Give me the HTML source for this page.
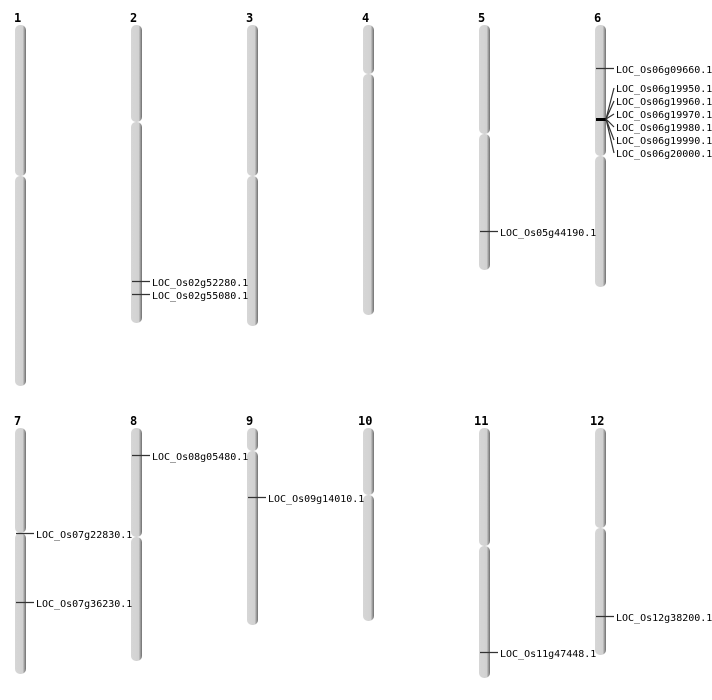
<!DOCTYPE html>
<html><head><meta charset="utf-8"><style>
html,body{margin:0;padding:0;background:#fff;}
svg{display:block;}
text.n{font-family:"DejaVu Sans Mono","Liberation Mono",monospace;font-weight:bold;font-size:12px;fill:#000;}
text.g{font-family:"DejaVu Sans Mono","Liberation Mono",monospace;font-size:10px;fill:#000;}
</style></head><body>
<svg width="712" height="700" viewBox="0 0 712 700" xmlns="http://www.w3.org/2000/svg">
<defs>
<linearGradient id="b" x1="0" x2="1" y1="0" y2="0">
<stop offset="0" stop-color="#d6d6d6"/><stop offset="0.7" stop-color="#d2d2d2"/><stop offset="0.82" stop-color="#a8a8a8"/><stop offset="1" stop-color="#6e6e6e"/>
</linearGradient>
</defs>
<g fill="url(#b)">
<rect x="15" y="25" width="11" height="151" rx="5"/><rect x="15" y="176" width="11" height="210" rx="5"/>
<rect x="131" y="25" width="11" height="97" rx="5"/><rect x="131" y="122" width="11" height="201" rx="5"/>
<rect x="247" y="25" width="11" height="151" rx="5"/><rect x="247" y="176" width="11" height="150" rx="5"/>
<rect x="363" y="25" width="11" height="49" rx="5"/><rect x="363" y="74" width="11" height="241" rx="5"/>
<rect x="479" y="25" width="11" height="109" rx="5"/><rect x="479" y="134" width="11" height="136" rx="5"/>
<rect x="595" y="25" width="11" height="131" rx="5"/><rect x="595" y="156" width="11" height="131" rx="5"/>
<rect x="15" y="428" width="11" height="105" rx="5"/><rect x="15" y="533" width="11" height="141" rx="5"/>
<rect x="131" y="428" width="11" height="109" rx="5"/><rect x="131" y="537" width="11" height="124" rx="5"/>
<rect x="247" y="428" width="11" height="23" rx="5"/><rect x="247" y="451" width="11" height="174" rx="5"/>
<rect x="363" y="428" width="11" height="67" rx="5"/><rect x="363" y="495" width="11" height="126" rx="5"/>
<rect x="479" y="428" width="11" height="118" rx="5"/><rect x="479" y="546" width="11" height="132" rx="5"/>
<rect x="595" y="428" width="11" height="100" rx="5"/><rect x="595" y="528" width="11" height="127" rx="5"/>
</g>
<g>
<text class="n" x="14" y="22">1</text><text class="n" x="130" y="22">2</text><text class="n" x="246" y="22">3</text>
<text class="n" x="362" y="22">4</text><text class="n" x="478" y="22">5</text><text class="n" x="594" y="22">6</text>
<text class="n" x="14" y="425">7</text><text class="n" x="130" y="425">8</text><text class="n" x="246" y="425">9</text>
<text class="n" x="358" y="425">10</text><text class="n" x="474" y="425">11</text><text class="n" x="590" y="425">12</text>
</g>
<g stroke="#333" stroke-width="1.2">
<line x1="132" y1="281.5" x2="150" y2="281.5"/><line x1="132" y1="294.5" x2="150" y2="294.5"/>
<line x1="480" y1="231.5" x2="498" y2="231.5"/>
<line x1="596" y1="68.5" x2="614" y2="68.5"/>
<line x1="596" y1="119.5" x2="606" y2="119.5" stroke="#000" stroke-width="3"/>
<line x1="606" y1="119" x2="614" y2="88"/><line x1="606" y1="119" x2="614" y2="101"/>
<line x1="606" y1="119" x2="614" y2="114"/><line x1="606" y1="119" x2="614" y2="127"/>
<line x1="606" y1="119" x2="614" y2="140"/><line x1="606" y1="119" x2="614" y2="153"/>
<line x1="16" y1="533.5" x2="34" y2="533.5"/><line x1="16" y1="602.5" x2="34" y2="602.5"/>
<line x1="132" y1="455.5" x2="150" y2="455.5"/>
<line x1="248" y1="497.5" x2="266" y2="497.5"/>
<line x1="480" y1="652.5" x2="498" y2="652.5"/>
<line x1="596" y1="616.5" x2="614" y2="616.5"/>
</g>
<g>
<text class="g" x="152" y="286">LOC_Os02g52280.1</text>
<text class="g" x="152" y="299">LOC_Os02g55080.1</text>
<text class="g" x="500" y="236">LOC_Os05g44190.1</text>
<text class="g" x="616" y="73">LOC_Os06g09660.1</text>
<text class="g" x="616" y="92">LOC_Os06g19950.1</text>
<text class="g" x="616" y="105">LOC_Os06g19960.1</text>
<text class="g" x="616" y="118">LOC_Os06g19970.1</text>
<text class="g" x="616" y="131">LOC_Os06g19980.1</text>
<text class="g" x="616" y="144">LOC_Os06g19990.1</text>
<text class="g" x="616" y="157">LOC_Os06g20000.1</text>
<text class="g" x="36" y="538">LOC_Os07g22830.1</text>
<text class="g" x="36" y="607">LOC_Os07g36230.1</text>
<text class="g" x="152" y="460">LOC_Os08g05480.1</text>
<text class="g" x="268" y="502">LOC_Os09g14010.1</text>
<text class="g" x="500" y="657">LOC_Os11g47448.1</text>
<text class="g" x="616" y="621">LOC_Os12g38200.1</text>
</g>
</svg>
</body></html>
